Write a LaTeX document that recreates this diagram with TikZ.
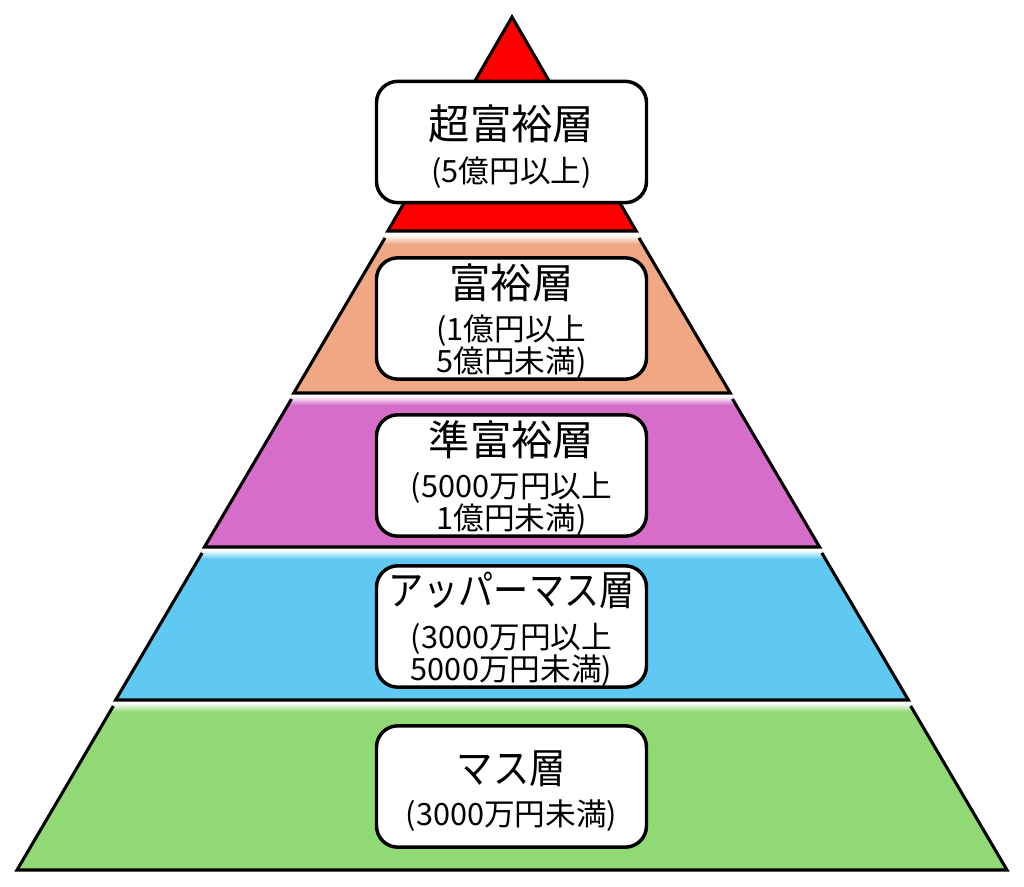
\documentclass[tikz,border=0pt]{standalone}
\usepackage{graphicx}
\usepackage{fontspec}
\setmainfont{Noto Sans CJK JP}
\definecolor{cRed}{RGB}{255,0,0}
\definecolor{cOrange}{RGB}{240,168,132}
\definecolor{cMagenta}{RGB}{214,110,201}
\definecolor{cBlue}{RGB}{96,201,242}
\definecolor{cGreen}{RGB}{144,217,116}
\newcommand\ttl[1]{{\fontsize{31}{34}\selectfont #1}}
\newcommand\narrow[2]{\scalebox{#1}[1]{#2}}
\begin{document}
\begin{tikzpicture}[x=0.75pt,y=-0.75pt,
  bandline/.style={line width=2.3pt, line join=miter},
  box/.style={draw, fill=white, line width=2.6pt, rounded corners=16pt,
    minimum width=202.5pt, minimum height=91pt, inner sep=0pt},
  boxtext/.style={align=center, inner sep=0pt, font=\fontsize{23}{24}\selectfont}]
\useasboundingbox (0,0) rectangle (1024,887);
% top red triangle
\filldraw[bandline, fill=cRed] (512,17) -- (636.2,231) -- (387.8,231) -- cycle;
% lower bands
\foreach \c/\yt/\yb in {cOrange/236/393, cMagenta/397/547, cBlue/551/700, cGreen/704/870}{
  \pgfmathsetmacro\hwt{(\yt-17)*0.58030}
  \pgfmathsetmacro\hwb{(\yb-17)*0.58030}
  \begin{scope}
    \clip (512-\hwt,\yt) -- (512+\hwt,\yt) -- (512+\hwb,\yb) -- (512-\hwb,\yb) -- cycle;
    \fill[\c] (0,\yt) rectangle (1024,\yb);
    \shade[top color=white, bottom color=\c] (0,\yt-1) rectangle (1024,\yt+8);
  \end{scope}
  \draw[bandline] (512-\hwt,\yt+2) -- (512-\hwb,\yb) -- (512+\hwb,\yb) -- (512+\hwt,\yt+2);
}
% boxes
\node[box] (b1) at (511.5,142) {};
\node[box] (b2) at (511.5,318.5) {};
\node[box] (b3) at (511.5,475.5) {};
\node[box] (b4) at (511.5,626.5) {};
\node[box] (b5) at (511.5,786.5) {};
% texts
\node[boxtext] (t1) at ([yshift=-3.5pt]b1.center) {\ttl{超富裕層}\\[8pt](5億円以上)};
\node[boxtext] (t2) at ([yshift=-2pt]b2.center) {\ttl{富裕層}\\[8pt](1億円以上\\5億円未満)};
\node[boxtext] (t3) at ([yshift=-2pt]b3.center) {\ttl{準富裕層}\\[8pt](5000万円以上\\1億円未満)};
\node[boxtext] (t4) at ([yshift=-2pt]b4.center) {\ttl{\narrow{0.85}{アッパーマス層}}\\[8pt](3000万円以上\\5000万円未満)};
\node[boxtext] (t5) at ([yshift=-3.5pt]b5.center) {\ttl{\narrow{0.88}{マス層}}\\[8pt](3000万円未満)};
\end{tikzpicture}
\end{document}
